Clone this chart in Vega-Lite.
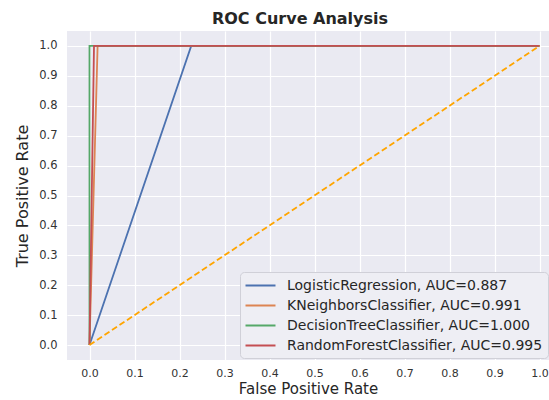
{
  "$schema": "https://vega.github.io/schema/vega-lite/v6.json",
  "autosize": {"type": "none"},
  "padding": {"left": 67, "top": 31, "right": 0, "bottom": 40},
  "width": 482,
  "height": 329,
  "background": "white",
  "config": {
    "font": "DejaVu Sans",
    "view": {"fill": "#EAEAF2", "stroke": null},
    "axis": {
      "domain": false,
      "ticks": false,
      "grid": true,
      "gridColor": "white",
      "gridWidth": 1.2,
      "labelFont": "DejaVu Sans",
      "labelFontSize": 11.5,
      "labelColor": "#333333",
      "labelOverlap": false,
      "titleFont": "DejaVu Sans",
      "titleFontSize": 16,
      "titleFontWeight": "normal",
      "titleColor": "#262626"
    }
  },
  "title": {
    "text": "ROC Curve Analysis",
    "fontSize": 16,
    "fontWeight": "bold",
    "font": "DejaVu Sans",
    "color": "#262626",
    "anchor": "middle",
    "dx": -8,
    "offset": 4
  },
  "layer": [
    {
      "data": {
        "values": [
          {"model": "LogisticRegression, AUC=0.887", "fpr": 0, "tpr": 0, "o": 0},
          {"model": "LogisticRegression, AUC=0.887", "fpr": 0.226, "tpr": 1, "o": 1},
          {"model": "LogisticRegression, AUC=0.887", "fpr": 1, "tpr": 1, "o": 2},
          {"model": "KNeighborsClassifier, AUC=0.991", "fpr": 0, "tpr": 0, "o": 0},
          {"model": "KNeighborsClassifier, AUC=0.991", "fpr": 0.018, "tpr": 1, "o": 1},
          {"model": "KNeighborsClassifier, AUC=0.991", "fpr": 1, "tpr": 1, "o": 2},
          {"model": "DecisionTreeClassifier, AUC=1.000", "fpr": 0, "tpr": 0, "o": 0},
          {"model": "DecisionTreeClassifier, AUC=1.000", "fpr": 0, "tpr": 1, "o": 1},
          {"model": "DecisionTreeClassifier, AUC=1.000", "fpr": 1, "tpr": 1, "o": 2},
          {"model": "RandomForestClassifier, AUC=0.995", "fpr": 0, "tpr": 0, "o": 0},
          {"model": "RandomForestClassifier, AUC=0.995", "fpr": 0.01, "tpr": 1, "o": 1},
          {"model": "RandomForestClassifier, AUC=0.995", "fpr": 1, "tpr": 1, "o": 2}
        ]
      },
      "mark": {"type": "line", "strokeWidth": 1.8, "clip": true},
      "encoding": {
        "x": {
          "field": "fpr", "type": "quantitative",
          "scale": {"domain": [-0.05, 1.0211], "nice": false, "zero": false},
          "axis": {"title": "False Positive Rate", "values": [0,0.1,0.2,0.3,0.4,0.5,0.6,0.7,0.8,0.9,1.0], "format": ".1f", "labelPadding": 7, "labelFontSize": 11, "titlePadding": 3, "titleFontSize": 15, "labelFlush": false, "labelOverlap": false}
        },
        "y": {
          "field": "tpr", "type": "quantitative",
          "scale": {"domain": [-0.05, 1.05], "nice": false, "zero": false},
          "axis": {"title": "True Positive Rate", "values": [0,0.1,0.2,0.3,0.4,0.5,0.6,0.7,0.8,0.9,1.0], "format": ".1f", "labelPadding": 10, "titlePadding": 8, "labelOverlap": false, "labelFlush": false, "tickCount": 11}
        },
        "order": {"field": "o"},
        "color": {
          "field": "model", "type": "nominal",
          "scale": {
            "domain": ["LogisticRegression, AUC=0.887", "KNeighborsClassifier, AUC=0.991", "DecisionTreeClassifier, AUC=1.000", "RandomForestClassifier, AUC=0.995"],
            "range": ["#4C72B0", "#DD8452", "#55A868", "#C44E52"]
          },
          "legend": {
            "title": null,
            "orient": "none",
            "legendX": 173,
            "legendY": 241,
            "fillColor": "#EEEEF4",
            "strokeColor": "#D0D0D8",
            "cornerRadius": 4,
            "padding": 5,
            "symbolType": "M-2,0H2",
            "symbolStrokeWidth": 2,
            "symbolSize": 225,
            "symbolOffset": 7,
            "labelOffset": 18,
            "labelFontSize": 14,
            "labelFont": "DejaVu Sans",
            "labelColor": "#262626",
            "labelLimit": 400,
            "rowPadding": 4
          }
        }
      }
    },
    {
      "data": {"values": [{"fpr": 0, "tpr": 0}, {"fpr": 1, "tpr": 1}]},
      "mark": {"type": "line", "color": "#FFA500", "strokeWidth": 1.8, "strokeDash": [6, 3]},
      "encoding": {
        "x": {"field": "fpr", "type": "quantitative"},
        "y": {"field": "tpr", "type": "quantitative"}
      }
    }
  ]
}
